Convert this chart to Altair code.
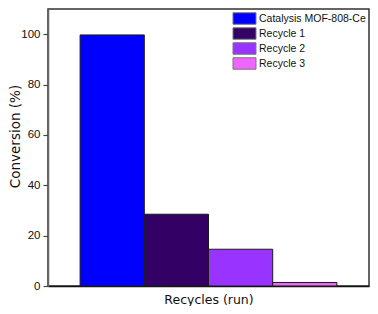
import altair as alt
import pandas as pd

categories = ["Catalysis MOF-808-Ce", "Recycle 1", "Recycle 2", "Recycle 3"]
conversion = [99.7, 28.5, 14.6, 1.4]
colors = ["#0000FF", "#330066", "#9933FF", "#EE66FF"]
y_ticks = [0, 20, 40, 60, 80, 100]

df = pd.DataFrame({"run": categories, "conversion": conversion})

chart = alt.Chart(df).mark_bar(stroke="#1a1a1a", strokeWidth=1).encode(
    x=alt.X(
        "run:N",
        sort=categories,
        scale=alt.Scale(paddingInner=0, paddingOuter=0.5),
        axis=alt.Axis(
            title="Recycles (run)", labels=False, ticks=False,
            domainColor="#111", domainWidth=1.5,
            titleFont="DejaVu Sans", titleFontSize=12.5, titleFontWeight="normal",
            titleColor="#111", titlePadding=7,
        ),
    ),
    y=alt.Y(
        "conversion:Q",
        scale=alt.Scale(domain=[0, 110], nice=False),
        axis=alt.Axis(
            title="Conversion (%)", values=y_ticks, grid=False,
            tickSize=5, tickColor="#444", tickWidth=1.2,
            domainColor="#666", domainWidth=1.5,
            labelFont="Liberation Sans", labelFontSize=11.5, labelColor="#111",
            labelPadding=3,
            titleFont="DejaVu Sans", titleFontSize=13.5, titleFontWeight="normal",
            titleColor="#111", titleX=-33, titleY=127, titleBaseline="middle",
            titleAngle=-90,
        ),
    ),
    color=alt.Color(
        "run:N",
        sort=categories,
        scale=alt.Scale(domain=categories, range=colors),
        legend=alt.Legend(
            title=None, orient="none", legendX=190, legendY=3,
            symbolType="M-2,-1H2V1H-2Z", symbolSize=132,
            symbolStrokeColor="#777", symbolStrokeWidth=1, symbolOpacity=1,
            labelFont="Liberation Sans", labelFontSize=10.5, labelColor="#111",
            labelOffset=8, rowPadding=-3, padding=0,
        ),
    ),
).properties(
    width=321, height=277,
    autosize=alt.AutoSizeParams(type="none"),
    padding={"left": 40, "top": 1, "right": 1, "bottom": 20},
).configure_view(
    stroke="#333", strokeWidth=1.5
)

chart.save("out.html", embed_options={"renderer": "svg", "actions": False})
